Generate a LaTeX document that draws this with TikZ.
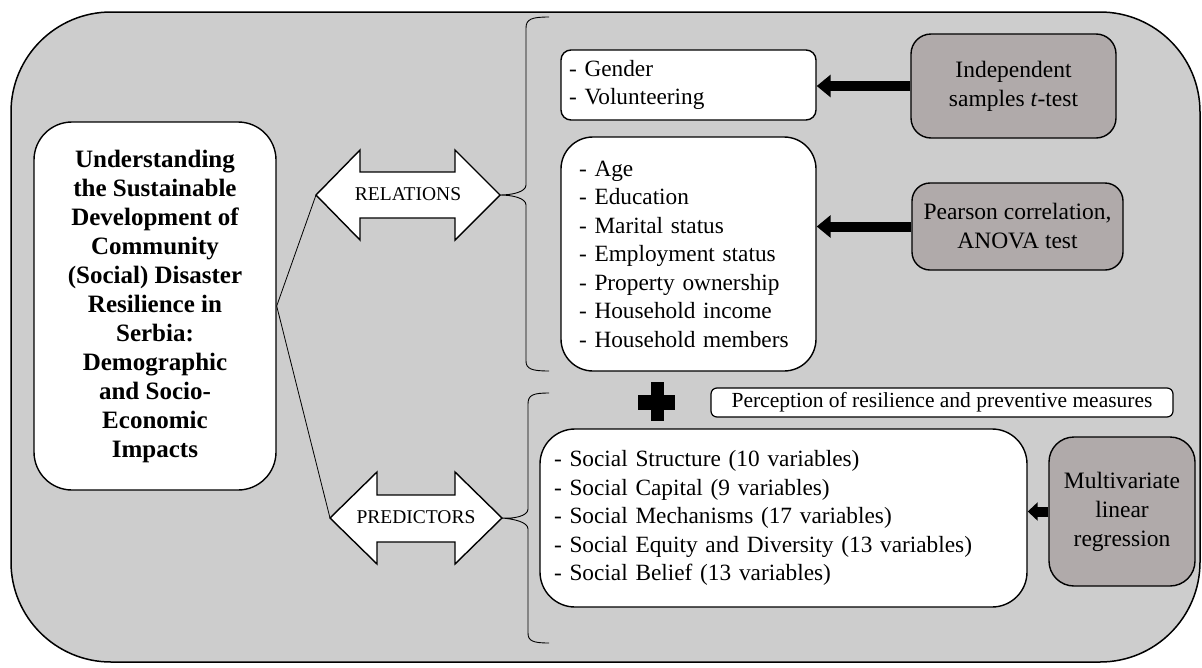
\documentclass[tikz,border=0pt]{standalone}
\usepackage{fontspec}
\setmainfont{Liberation Serif}
\usetikzlibrary{arrows.meta}
\definecolor{outerfill}{RGB}{205,205,205}
\definecolor{boxgray}{RGB}{176,170,170}
\tikzset{
  lbox/.style={draw, line width=1.4pt, fill=white, inner ysep=0pt, align=left, font=\fontsize{23.3}{28.5}\selectfont},
  gbox/.style={draw, line width=1.4pt, fill=boxgray, inner sep=0pt, align=center, font=\fontsize{23.5}{29}\selectfont},
  fat/.style={line width=10pt, -{Triangle[width=22pt,length=14pt]}},
  dbl/.style={draw, line width=1.4pt, fill=white, line join=miter},
  bracestyle/.style={draw, line width=0.9pt},
  thinline/.style={draw, line width=0.8pt},
  arrowtext/.style={font=\fontsize{19.5}{22}\selectfont, inner sep=0pt},
}
\begin{document}
\begin{tikzpicture}[x=1pt, y=-1pt]
\useasboundingbox (0,0) rectangle (1202,667);
% outer panel
\draw[line width=1.5pt, fill=outerfill, rounded corners=100pt] (11,12) rectangle (1200,662);

% main box
\node[draw, line width=1.4pt, fill=white, rounded corners=38pt, minimum width=242pt, minimum height=368pt,
      align=center, inner sep=0pt, font=\bfseries\fontsize{25}{29}\selectfont] (main) at (155,306)
 {Understanding\\the Sustainable\\Development of\\Community\\(Social) Disaster\\Resilience in\\Serbia:\\Demographic\\and Socio-\\Economic\\Impacts};

% double arrows
\coordinate (relL) at (316,195);
\coordinate (relR) at (500,195);
\path[dbl] (relL) -- (360,150) -- (360,172) -- (455,172) -- (455,150) -- (relR) -- (455,240) -- (455,218) -- (360,218) -- (360,240) -- cycle;
\node[arrowtext] (rel) at (408,194) {RELATIONS};

\coordinate (preL) at (330,518);
\coordinate (preR) at (502,518);
\path[dbl] (preL) -- (377,472) -- (377,495) -- (455,495) -- (455,472) -- (preR) -- (455,564) -- (455,542) -- (377,542) -- (377,564) -- cycle;
\node[arrowtext] (pre) at (416,517) {PREDICTORS};

% connecting lines
\draw[thinline] (main.east) -- (relL);
\draw[thinline] (main.east) -- (preL);

% braces
\path[bracestyle] (549,17) .. controls (532,17) and (526,19) .. (526,28) -- (526,185)
   .. controls (526,192) and (512,195) .. (relR)
   .. controls (512,195) and (526,198) .. (526,205) -- (526,361)
   .. controls (526,369) and (532,371) .. (549,371);
\path[bracestyle] (549,393) .. controls (533,393) and (528,395) .. (528,404) -- (528,509)
   .. controls (528,516) and (514,519) .. (preR)
   .. controls (514,519) and (528,522) .. (528,529) -- (528,633)
   .. controls (528,641) and (533,643) .. (549,643);

% list boxes
\node[lbox, rounded corners=10pt, inner xsep=8pt, text width=239pt, minimum height=70pt] (gender) at (688.5,85)
 {- Gender\\- Volunteering};
\node[lbox, rounded corners=32pt, inner xsep=18pt, text width=219pt, minimum height=234pt] (age) at (688.5,254)
 {- Age\\- Education\\- Marital status\\- Employment status\\- Property ownership\\- Household income\\- Household members};
\node[lbox, rounded corners=35pt, inner xsep=14pt, text width=459pt, minimum height=178pt] (social) at (783.5,518)
 {- Social Structure (10 variables)\\- Social Capital (9 variables)\\- Social Mechanisms (17 variables)\\- Social Equity and Diversity (13 variables)\\- Social Belief (13 variables)};

% perception box
\node[draw, line width=1.2pt, fill=white, rounded corners=6pt, minimum width=462pt, minimum height=29pt, inner sep=0pt,
      font=\fontsize{21.5}{24}\selectfont] (perc) at (942,402.5) {Perception of resilience and preventive measures};

% plus sign
\fill (650.5,382) rectangle (663.5,421);
\fill (638,394.5) rectangle (675,409.5);

% method boxes
\node[gbox, rounded corners=20pt, minimum width=205pt, minimum height=104pt] (indep) at (1013.5,86)
 {Independent\\samples \textit{t}-test};
\node[gbox, rounded corners=18pt, minimum width=211pt, minimum height=87pt] (pear) at (1017.5,226.5)
 {Pearson correlation,\\ANOVA test};
\node[gbox, rounded corners=25pt, minimum width=146pt, minimum height=149pt] (multi) at (1122,511.5)
 {Multivariate\\linear\\regression};

% arrows
\draw[fat] (indep.west) -- (indep.west -| gender.east);
\draw[fat] (pear.west) -- (pear.west -| age.east);
\draw[line width=10pt, -{Triangle[width=18pt,length=10pt]}] (multi.west) -- (multi.west -| social.east);
\end{tikzpicture}
\end{document}
